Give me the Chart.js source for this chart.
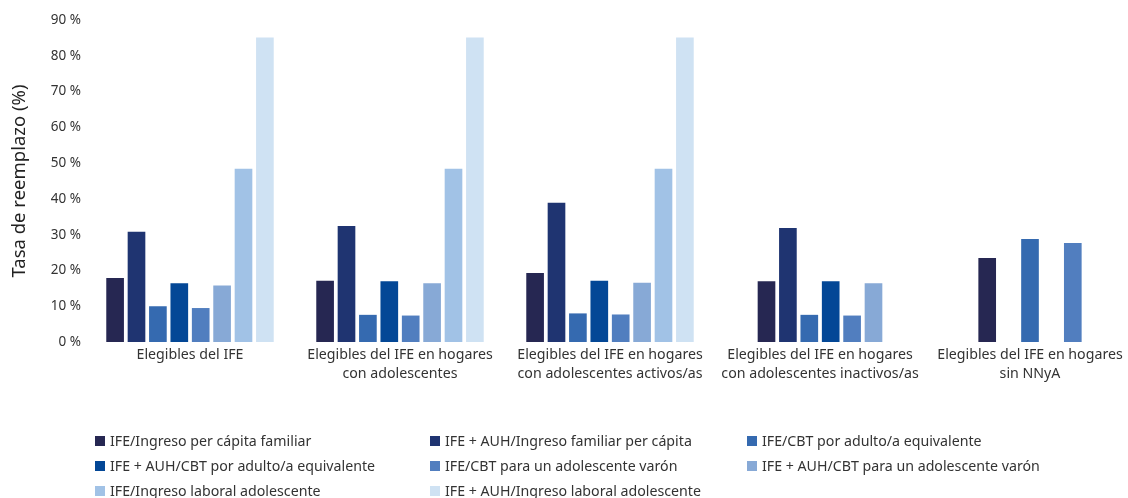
<!DOCTYPE html>
<html lang="es">
<head>
<meta charset="utf-8">
<script src="https://cdn.jsdelivr.net/npm/chart.js@4.4.1/dist/chart.umd.min.js"></script>
<style>
  html, body { margin: 0; padding: 0; background: #fff; overflow: hidden; }
  #wrap { position: relative; width: 1140px; height: 498px; }
  #legend {
    position: absolute; left: 95px; top: 428px;
    display: grid; grid-template-columns: 335px 317px 300px; grid-auto-rows: 25px;
    font-family: "Noto Sans", sans-serif; font-size: 14.2px; color: #333;
  }
  #legend div { display: flex; align-items: center; white-space: nowrap; }
  #legend span { display: inline-block; width: 10px; height: 10px; margin-right: 5px; }
</style>
</head>
<body>
<div id="wrap">
  <canvas id="chart" width="1140" height="498"></canvas>
  <div id="legend"></div>
</div>
<script>
const categories = [
  "Elegibles del IFE",
  ["Elegibles del IFE en hogares", "con adolescentes"],
  ["Elegibles del IFE en hogares", "con adolescentes activos/as"],
  ["Elegibles del IFE en hogares", "con adolescentes inactivos/as"],
  ["Elegibles del IFE en hogares", "sin NNyA"]
];

const seriesNames = [
  "IFE/Ingreso per cápita familiar",
  "IFE + AUH/Ingreso familiar per cápita",
  "IFE/CBT por adulto/a equivalente",
  "IFE + AUH/CBT por adulto/a equivalente",
  "IFE/CBT para un adolescente varón",
  "IFE + AUH/CBT para un adolescente varón",
  "IFE/Ingreso laboral adolescente",
  "IFE + AUH/Ingreso laboral adolescente"
];

const seriesColors = ["#262752", "#1f3471", "#356ab0", "#034796", "#517ebf", "#87a9d6", "#a1c2e6", "#cfe2f3"];

// one array per series, one value per category (null = no slot, 0 = empty slot)
const ingresoPerCapita      = [17.8, 17.0, 19.2, 16.9, 23.4];
const auhIngresoPerCapita   = [30.7, 32.3, 38.8, 31.8, 0];
const cbtAdultoEquiv        = [9.9, 7.5, 7.9, 7.5, 28.7];
const auhCbtAdultoEquiv     = [16.3, 16.9, 17.0, 16.9, 0];
const cbtAdolescente        = [9.4, 7.3, 7.6, 7.3, 27.6];
const auhCbtAdolescente     = [15.7, 16.3, 16.5, 16.3, null];
const ingresoLaboral        = [48.3, 48.3, 48.3, null, null];
const auhIngresoLaboral     = [85.0, 85.0, 85.0, null, null];

const seriesValues = [ingresoPerCapita, auhIngresoPerCapita, cbtAdultoEquiv, auhCbtAdultoEquiv,
  cbtAdolescente, auhCbtAdolescente, ingresoLaboral, auhIngresoLaboral];

const yTicks = [0, 10, 20, 30, 40, 50, 60, 70, 80, 90];

const datasets = seriesValues.map(function (values, i) {
  return {
    label: seriesNames[i],
    data: values,
    backgroundColor: function (ctx) {
      return ctx.raw === 0 ? "rgba(0,0,0,0)" : seriesColors[i];
    },
    borderWidth: 0,
    barThickness: 21.4,
    maxBarThickness: 17
  };
});

const legendBox = document.getElementById("legend");
seriesNames.forEach(function (name, i) {
  const item = document.createElement("div");
  item.innerHTML = `<span style="background:${seriesColors[i]}"></span>${name}`;
  legendBox.appendChild(item);
});

new Chart(document.getElementById("chart"), {
  type: "bar",
  data: { labels: categories, datasets: datasets },
  options: {
    responsive: false,
    animation: false,
    skipNull: true,
    layout: { padding: { top: 20, right: 5, left: 0, bottom: 0 } },
    plugins: { legend: { display: false }, tooltip: { enabled: false } },
    scales: {
      x: {
        grid: { display: false, drawTicks: false },
        border: { display: false },
        ticks: {
          padding: 3,
          color: "#333",
          maxRotation: 0,
          autoSkip: false,
          font: { family: "Noto Sans", size: 14.2, lineHeight: 1.35 }
        },
        afterFit: function (scale) { scale.height = 156; }
      },
      y: {
        min: 0,
        max: 90,
        afterBuildTicks: function (scale) {
          scale.ticks = yTicks.map(function (v) { return { value: v }; });
        },
        grid: { display: false, drawTicks: false },
        border: { display: false },
        ticks: {
          padding: 4,
          color: "#333",
          font: { family: "Noto Sans", size: 13.5 },
          callback: function (v) { return v + " %"; }
        },
        title: {
          display: true,
          text: "Tasa de reemplazo (%)",
          color: "#222",
          padding: { top: 9, bottom: 0 },
          font: { family: "Noto Sans", size: 18.5 }
        },
        afterFit: function (scale) { scale.width = 85; }
      }
    }
  }
});
</script>
</body>
</html>
